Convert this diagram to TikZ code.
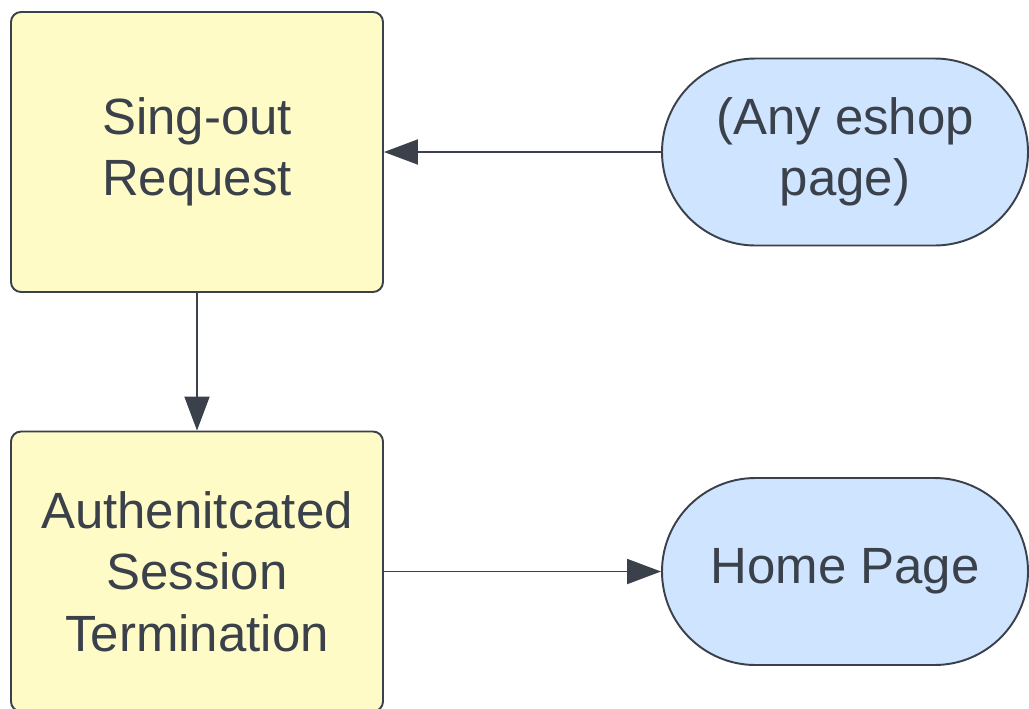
\documentclass[tikz,border=0pt]{standalone}
\usepackage{fontspec}
\setmainfont{Liberation Sans}
\usepackage{xcolor}
\usepackage{tikz}
\usetikzlibrary{arrows.meta,shapes.misc}
\definecolor{bg}{HTML}{FFFFFF}
\definecolor{ink}{HTML}{3A414A}
\definecolor{stepfill}{HTML}{FFFBC7}
\definecolor{pagefill}{HTML}{CFE4FF}
\tikzset{
  box/.style={draw=ink, fill=stepfill, line width=1.1pt, rounded corners=0.2cm,
    minimum width=7.44cm, minimum height=5.6cm, align=center, text=ink,
    font=\fontsize{29}{35}\selectfont, inner sep=0pt},
  pill/.style={draw=ink, fill=pagefill, line width=1.1pt, rounded rectangle,
    minimum width=7.32cm, minimum height=3.74cm, align=center, text=ink,
    font=\fontsize{29}{35}\selectfont, inner sep=0pt},
  flow/.style={draw=ink, line width=1.1pt, -{Triangle[length=0.68cm,width=0.5cm]}}
}

\begin{document}
\begin{tikzpicture}
  \useasboundingbox[fill=bg] (0,0) rectangle (20.58,-14.16);
  \node[box] (req) at (3.94,-3.04) {Sing-out\\Request};
  \node[box] (auth) at (3.94,-11.43) {Authenitcated\\Session\\Termination};
  \node[pill] (any) at (16.9,-3.04) {(Any eshop\\page)};
  \node[pill] (home) at (16.9,-11.43) {Home Page};
  \draw[flow] (any.west) -- (req.east);
  \draw[flow] (req.south) -- (auth.north);
  \draw[flow] (auth.east) -- (home.west);
\end{tikzpicture}
\end{document}
